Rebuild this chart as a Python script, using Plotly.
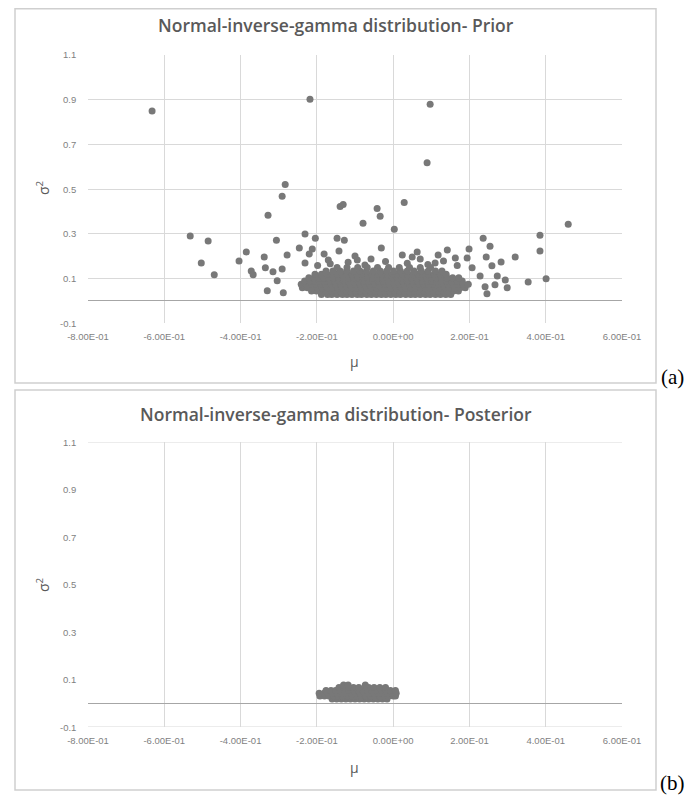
import plotly.graph_objects as go

# ---------------- data: prior (panel a) ----------------
# scattered / outlying samples (mu, sigma^2)
prior_out_mu = [-0.632, -0.218, 0.097, 0.089, -0.283, -0.291, -0.328, -0.139, -0.131,
                -0.532, -0.485, -0.503, -0.469, -0.404, -0.385, -0.338, -0.330, -0.306,
                -0.335, -0.315, -0.372, -0.367, -0.291, -0.304, -0.278, -0.246, -0.231,
                -0.204, -0.212, -0.220, -0.181, -0.170, -0.231, -0.147, -0.128, -0.142,
                -0.288, -0.079, -0.042, -0.034, 0.029, 0.003, -0.031, 0.459, 0.385,
                0.385, 0.401, 0.354, 0.236, 0.254, 0.244, 0.259, 0.283, 0.273, 0.294,
                0.267, 0.299, 0.320, 0.199, 0.142, 0.163, 0.194, 0.110, 0.063, 0.071,
                0.024, -0.058, -0.094, 0.246, 0.241, 0.228, 0.207, -0.165, -0.118,
                -0.074, -0.020, 0.037, 0.091, 0.132, 0.168, -0.198, 0.050, -0.100, 0.118]
prior_out_s2 = [0.849, 0.902, 0.880, 0.618, 0.520, 0.467, 0.382, 0.422, 0.431,
                0.289, 0.267, 0.169, 0.116, 0.178, 0.218, 0.196, 0.044, 0.271,
                0.147, 0.129, 0.133, 0.116, 0.142, 0.089, 0.204, 0.236, 0.298,
                0.280, 0.231, 0.209, 0.209, 0.182, 0.169, 0.280, 0.271, 0.222,
                0.036, 0.347, 0.413, 0.378, 0.440, 0.320, 0.236, 0.342, 0.293,
                0.222, 0.098, 0.084, 0.280, 0.244, 0.196, 0.156, 0.173, 0.111, 0.093,
                0.071, 0.058, 0.196, 0.231, 0.227, 0.191, 0.191, 0.169, 0.218, 0.187,
                0.204, 0.187, 0.182, 0.031, 0.062, 0.111, 0.147, 0.165, 0.172,
                0.160, 0.175, 0.168, 0.162, 0.178, 0.158, 0.158, 0.195, 0.200, 0.205]

# dense cluster, read row by row (sigma^2 level -> mu values)
prior_rows_s2 = [0.028, 0.043, 0.058, 0.073, 0.088, 0.103, 0.118, 0.133, 0.149]
prior_rows_mu = [
    [-0.188, -0.172, -0.161, -0.147, -0.133, -0.121, -0.108, -0.094, -0.083, -0.069, -0.057,
     -0.044, -0.031, -0.019, -0.006, 0.007, 0.019, 0.033, 0.046, 0.058, 0.071, 0.085, 0.097,
     0.111, 0.124, 0.138, 0.151],
    [-0.214, -0.201, -0.187, -0.176, -0.162, -0.149, -0.137, -0.123, -0.111, -0.098, -0.085,
     -0.072, -0.059, -0.047, -0.034, -0.021, -0.009, 0.004, 0.017, 0.029, 0.042, 0.056, 0.068,
     0.081, 0.094, 0.106, 0.119, 0.133, 0.146, 0.158, 0.171],
    [-0.238, -0.225, -0.211, -0.198, -0.186, -0.173, -0.159, -0.146, -0.134, -0.121, -0.108,
     -0.095, -0.082, -0.069, -0.057, -0.043, -0.031, -0.018, -0.005, 0.008, 0.021, 0.033,
     0.047, 0.059, 0.072, 0.085, 0.098, 0.111, 0.123, 0.136, 0.149, 0.162, 0.176, 0.189],
    [-0.241, -0.228, -0.214, -0.202, -0.189, -0.176, -0.163, -0.151, -0.137, -0.124, -0.112,
     -0.099, -0.086, -0.073, -0.061, -0.047, -0.035, -0.022, -0.009, 0.004, 0.017, 0.029,
     0.043, 0.055, 0.068, 0.081, 0.094, 0.107, 0.119, 0.133, 0.145, 0.158, 0.171, 0.184, 0.197],
    [-0.232, -0.219, -0.205, -0.193, -0.180, -0.167, -0.154, -0.141, -0.128, -0.116, -0.103,
     -0.090, -0.077, -0.064, -0.052, -0.039, -0.026, -0.013, 0.000, 0.013, 0.025, 0.038,
     0.051, 0.064, 0.077, 0.090, 0.102, 0.115, 0.128, 0.141, 0.154, 0.168, 0.181],
    [-0.221, -0.207, -0.195, -0.182, -0.169, -0.156, -0.143, -0.130, -0.117, -0.104, -0.092,
     -0.079, -0.066, -0.053, -0.040, -0.027, -0.015, -0.002, 0.011, 0.024, 0.036, 0.049,
     0.062, 0.076, 0.088, 0.101, 0.114, 0.127, 0.141, 0.156, 0.172],
    [-0.205, -0.188, -0.174, -0.160, -0.147, -0.133, -0.121, -0.107, -0.094, -0.081, -0.067,
     -0.055, -0.041, -0.028, -0.015, -0.001, 0.012, 0.025, 0.039, 0.052, 0.066, 0.079, 0.093,
     0.108, 0.124, 0.139],
    [-0.176, -0.158, -0.139, -0.122, -0.104, -0.087, -0.070, -0.052, -0.034, -0.017, 0.001,
     0.019, 0.037, 0.055, 0.074, 0.092, 0.111, 0.128],
    [-0.147, -0.121, -0.093, -0.068, -0.041, -0.012, 0.016, 0.043, 0.071, 0.098],
]

# ---------------- data: posterior (panel b) ----------------
post_rows_s2 = [0.018, 0.030, 0.042, 0.054, 0.066, 0.077]
post_rows_mu = [
    [-0.160, -0.148, -0.136, -0.124, -0.112, -0.100, -0.088, -0.076, -0.064, -0.052, -0.040,
     -0.028, -0.016],
    [-0.192, -0.180, -0.168, -0.156, -0.144, -0.132, -0.120, -0.108, -0.096, -0.084, -0.072,
     -0.060, -0.048, -0.036, -0.024, -0.012, 0.000, 0.006],
    [-0.194, -0.181, -0.170, -0.157, -0.146, -0.133, -0.121, -0.110, -0.097, -0.086, -0.073,
     -0.062, -0.049, -0.038, -0.025, -0.014, -0.002, 0.008],
    [-0.176, -0.163, -0.151, -0.139, -0.127, -0.115, -0.103, -0.091, -0.079, -0.067, -0.055,
     -0.043, -0.031, -0.019, -0.007, 0.006],
    [-0.142, -0.130, -0.119, -0.104, -0.090, -0.072, -0.064, -0.050, -0.035, -0.020],
    [-0.130, -0.118, -0.073],
]

# ---------------- ticks ----------------
x_tickvals = [-0.8, -0.6, -0.4, -0.2, 0.0, 0.2, 0.4, 0.6]
x_ticktext = ["-8.00E-01", "-6.00E-01", "-4.00E-01", "-2.00E-01", "0.00E+00",
              "2.00E-01", "4.00E-01", "6.00E-01"]
y_tickvals = [-0.1, 0.1, 0.3, 0.5, 0.7, 0.9, 1.1]
y_ticktext = ["-0.1", "0.1", "0.3", "0.5", "0.7", "0.9", "1.1"]

title_a = "Normal-inverse-gamma distribution- Prior"
title_b = "Normal-inverse-gamma distribution- Posterior"

# ---------------- assemble ----------------
prior_mu = list(prior_out_mu)
prior_s2 = list(prior_out_s2)
for s2, mus in zip(prior_rows_s2, prior_rows_mu):
    prior_mu += mus
    prior_s2 += [s2] * len(mus)

post_mu, post_s2 = [], []
for s2, mus in zip(post_rows_s2, post_rows_mu):
    post_mu += mus
    post_s2 += [s2] * len(mus)

# page body has an 8px margin: figure sized to fit the window, positions offset by it
OFF = 8
W, H = 700 - OFF, 798 - OFF
def px(v): return (v - OFF) / W
def py(v): return 1 - max(v - OFF, 0.8) / H

MARK = "#787878"
GRID = "#d9d9d9"
TXT = "#595959"
TICKF = dict(family="Liberation Sans", size=9.5, color="#7f7f7f")
NOTICK = "rgba(0,0,0,0)"

fig = go.Figure()
fig.add_trace(go.Scatter(x=prior_mu, y=prior_s2, mode="markers",
                         marker=dict(color=MARK, size=7, line=dict(width=0)),
                         xaxis="x", yaxis="y", showlegend=False))
fig.add_trace(go.Scatter(x=post_mu, y=post_s2, mode="markers",
                         marker=dict(color=MARK, size=7, line=dict(width=0)),
                         xaxis="x2", yaxis="y2", showlegend=False))

xcommon = dict(range=[-0.8, 0.6], tickvals=x_tickvals, ticktext=x_ticktext,
               showgrid=True, gridcolor=GRID, gridwidth=1, zeroline=False,
               showline=False, ticks="outside", ticklen=5, tickcolor=NOTICK,
               tickfont=TICKF, domain=[px(88), px(622)], fixedrange=True,
               automargin=False)
ycommon = dict(range=[-0.1, 1.1], tickvals=y_tickvals, showticklabels=False,
               zeroline=True, zerolinecolor="#a6a6a6", zerolinewidth=1.3,
               showline=False, ticks="", fixedrange=True, automargin=False)

fig.update_layout(
    width=W, height=H,
    margin=dict(l=0, r=0, t=0, b=0),
    paper_bgcolor="white", plot_bgcolor="white",
    xaxis=dict(xcommon, anchor="y"),
    yaxis=dict(ycommon, anchor="x", domain=[py(323), py(55)],
               showgrid=True, gridcolor=GRID, gridwidth=1),
    xaxis2=dict(xcommon, anchor="y2"),
    yaxis2=dict(ycommon, anchor="x2", domain=[py(727), py(442)], showgrid=False),
)

shapes = [
    dict(type="rect", xref="paper", yref="paper", x0=px(15), x1=px(656), y0=py(383), y1=py(4),
         line=dict(color="#cfcfcf", width=1.5), fillcolor="rgba(0,0,0,0)", layer="below"),
    dict(type="rect", xref="paper", yref="paper", x0=px(15), x1=px(656), y0=py(790), y1=py(390),
         line=dict(color="#cfcfcf", width=1.5), fillcolor="rgba(0,0,0,0)", layer="below"),
    dict(type="line", xref="x2 domain", yref="y2", x0=0, x1=1, y0=1.1, y1=1.1,
         line=dict(color=GRID, width=1), layer="below"),
    dict(type="line", xref="x2 domain", yref="y2", x0=0, x1=1, y0=-0.1, y1=-0.1,
         line=dict(color=GRID, width=1), layer="below"),
]
fig.update_layout(shapes=shapes)

TF = dict(family="Open Sans", size=17.5, color=TXT, weight=600)
AX = dict(family="Open Sans", size=14, color=TXT)
LAB = dict(family="Liberation Serif", size=21, color="black")
ann = [
    dict(text=title_a, x=px(336), y=py(25), font=TF),
    dict(text=title_b, x=px(336), y=py(414), font=TF),
    dict(text="μ", x=px(354), y=py(362), font=AX),
    dict(text="μ", x=px(354), y=py(767), font=AX),
    dict(text="σ<sup>2</sup>", x=px(43), y=py(188), font=AX, textangle=-90),
    dict(text="σ<sup>2</sup>", x=px(43), y=py(585), font=AX, textangle=-90),
    dict(text="(a)", x=px(672), y=py(377), font=LAB),
    dict(text="(b)", x=px(672), y=py(783), font=LAB),
]
for a in ann:
    a.update(xref="paper", yref="paper", showarrow=False, xanchor="center", yanchor="middle")
# y-axis tick labels, right-aligned a few pixels left of each plot area
for yref in ("y", "y2"):
    for v, t in zip(y_tickvals, y_ticktext):
        ann.append(dict(text=t, x=px(78), xref="paper", y=v, yref=yref, showarrow=False,
                        xanchor="right", yanchor="middle", font=TICKF))
fig.update_layout(annotations=ann)

fig.write_html("out.html")
